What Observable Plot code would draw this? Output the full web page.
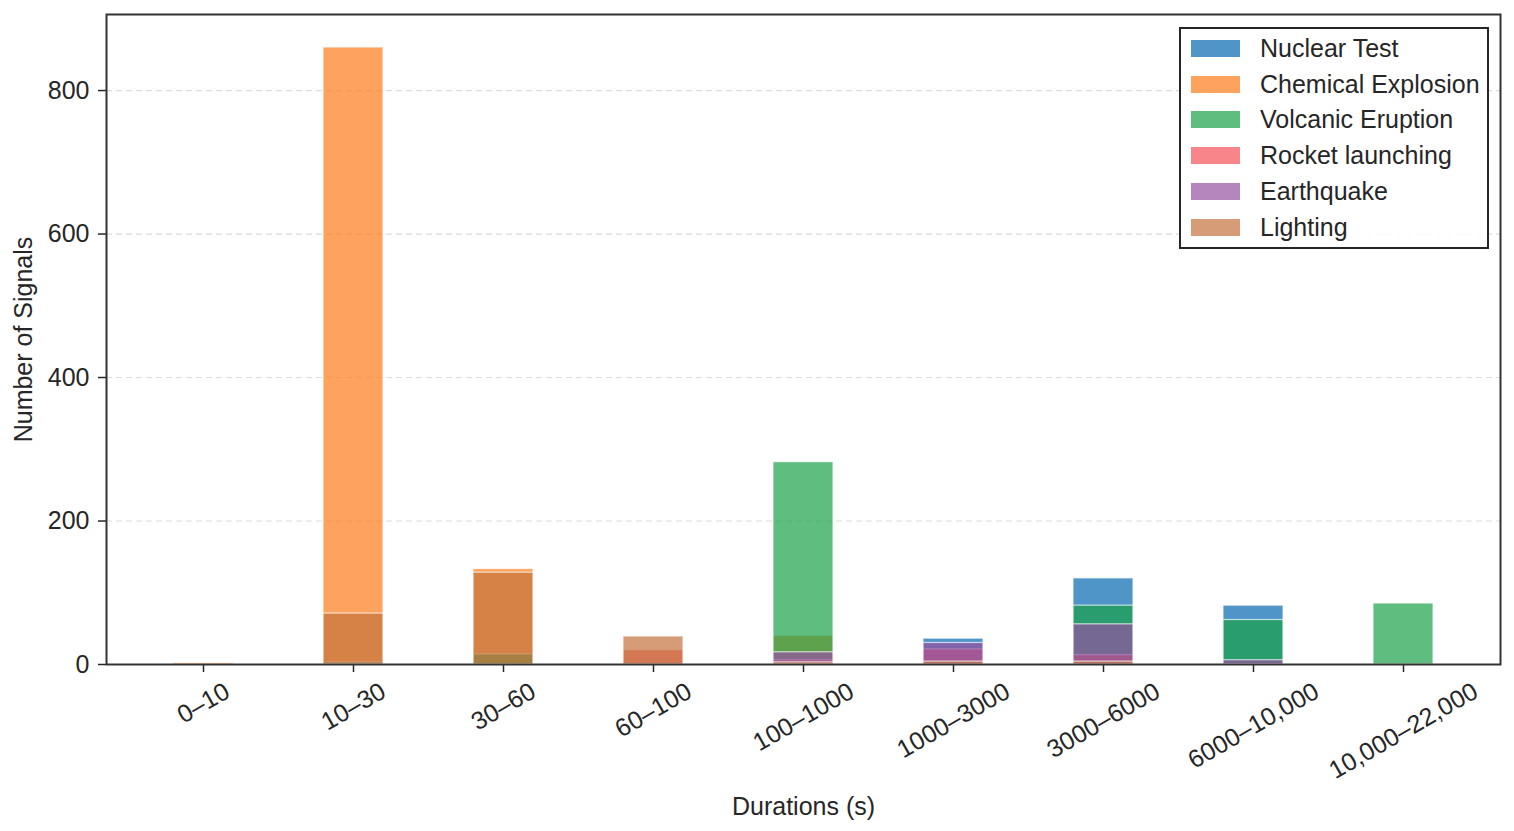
<!DOCTYPE html>
<html>
<head>
<meta charset="utf-8">
<script src="https://cdn.jsdelivr.net/npm/d3@7"></script>
<script src="https://cdn.jsdelivr.net/npm/@observablehq/plot@0.6"></script>
<style>
  html, body { margin: 0; padding: 0; background: #fff; overflow: hidden; }
  #wrap { position: relative; width: 1514px; height: 831px; font-family: "Liberation Sans", Arial, sans-serif; }
  #legend { position: absolute; left: 1179px; top: 27px; width: 306px; height: 218px; border: 2px solid #262626; background: rgba(255,255,255,0.85); box-sizing: content-box; }
  .row { position: absolute; left: 0; height: 36px; width: 100%; }
  .sw { position: absolute; left: 10px; width: 49px; height: 17px; }
  .lab { position: absolute; left: 79px; font-size: 25px; color: #262626; white-space: nowrap; line-height: 25px; }
</style>
</head>
<body>
<div id="wrap"><div id="legend"></div></div>
<script>
const categories = ["0–10", "10–30", "30–60", "60–100", "100–1000", "1000–3000", "3000–6000", "6000–10,000", "10,000–22,000"];
const seriesNames = ["Nuclear Test", "Chemical Explosion", "Volcanic Eruption", "Rocket launching", "Earthquake", "Lighting"];
const seriesColors = ["#0468af", "#fe7c18", "#1aa148", "#f45158", "#9551a1", "#c4723d"];
const nuclear    = [0,   0,   0,   0,   0, 36, 120, 82,  0];
const chemical   = [2, 860, 133,   0,  40,  0,   0,  0,  0];
const volcanic   = [0,   3,  14,   0, 282,  0,  82, 62, 85];
const rocket     = [0,   0,   0,  20,   6, 21,  13,  0,  0];
const earthquake = [0,   0,   0,   0,  17, 30,  56,  6,  0];
const lighting   = [0,  71, 128,  39,   3,  4,   4,  0,  0];
const yTicks = [0, 200, 400, 600, 800];

const seriesValues = [nuclear, chemical, volcanic, rocket, earthquake, lighting];
const rows = [];
seriesValues.forEach((vals, s) => {
  vals.forEach((v, i) => {
    if (v > 0) rows.push({series: seriesNames[s], cat: categories[i], value: v});
  });
});

const FS = 25;
const FONT = FS + "px 'Liberation Sans', Arial, sans-serif";
const ctx = document.createElement("canvas").getContext("2d");
ctx.font = FONT;
function labelDy(t) {
  const L = ctx.measureText(t).width;
  const h = L * 0.5 + 0.716 * FS * Math.cos(Math.PI / 6);
  return 17 + h / 2;
}

const tickLabelMarks = categories.map(c => Plot.text([c], {
  x: d => d, frameAnchor: "bottom", rotate: -30, textAnchor: "middle", lineAnchor: "middle",
  dy: labelDy(c), fontSize: FS, fill: "#262626"
}));

const chart = Plot.plot({
  width: 1514,
  height: 831,
  marginLeft: 106,
  marginRight: 14,
  marginTop: 14,
  marginBottom: 167,
  style: {fontFamily: "'Liberation Sans', Arial, sans-serif", fontSize: FS + "px", color: "#262626", background: "white"},
  x: {type: "band", domain: categories, paddingInner: 0.6, paddingOuter: 0.424, label: null},
  y: {domain: [0, 906], label: null},
  color: {domain: seriesNames, range: seriesColors},
  marks: [
    Plot.gridY(yTicks.filter(t => t > 0), {stroke: "#dcdcdc", strokeOpacity: 1, strokeDasharray: "6,4", strokeWidth: 1.2}),
    Plot.barY(rows, {x: "cat", y1: 0, y2: "value", fill: "series", fillOpacity: 0.7, stroke: "white", strokeOpacity: 0.7, strokeWidth: 1.2}),
    Plot.axisY({ticks: yTicks, tickSize: 8, tickPadding: 9, fontSize: FS, stroke: "#262626", strokeWidth: 1.5,
      label: "Number of Signals", labelAnchor: "center", labelOffset: 92, labelArrow: false}),
    Plot.axisX({tickSize: 8, tickFormat: () => "", stroke: "#262626", strokeWidth: 1.5,
      label: "Durations (s)", labelAnchor: "center", labelOffset: 150, labelArrow: false}),
    ...tickLabelMarks,
    Plot.frame({stroke: "#333", strokeWidth: 2})
  ]
});
document.getElementById("wrap").prepend(chart);

const legend = document.getElementById("legend");
const rowCenters = [19, 55, 90.5, 126, 162, 198];
seriesNames.forEach((n, i) => {
  const r = document.createElement("div");
  r.className = "row";
  r.style.top = (rowCenters[i] - 18) + "px";
  const sw = document.createElement("div");
  sw.className = "sw";
  sw.style.top = "9.5px";
  sw.style.background = seriesColors[i];
  sw.style.opacity = 0.7;
  const lab = document.createElement("div");
  lab.className = "lab";
  lab.style.top = "5.5px";
  lab.textContent = n;
  r.appendChild(sw);
  r.appendChild(lab);
  legend.appendChild(r);
});
</script>
</body>
</html>
